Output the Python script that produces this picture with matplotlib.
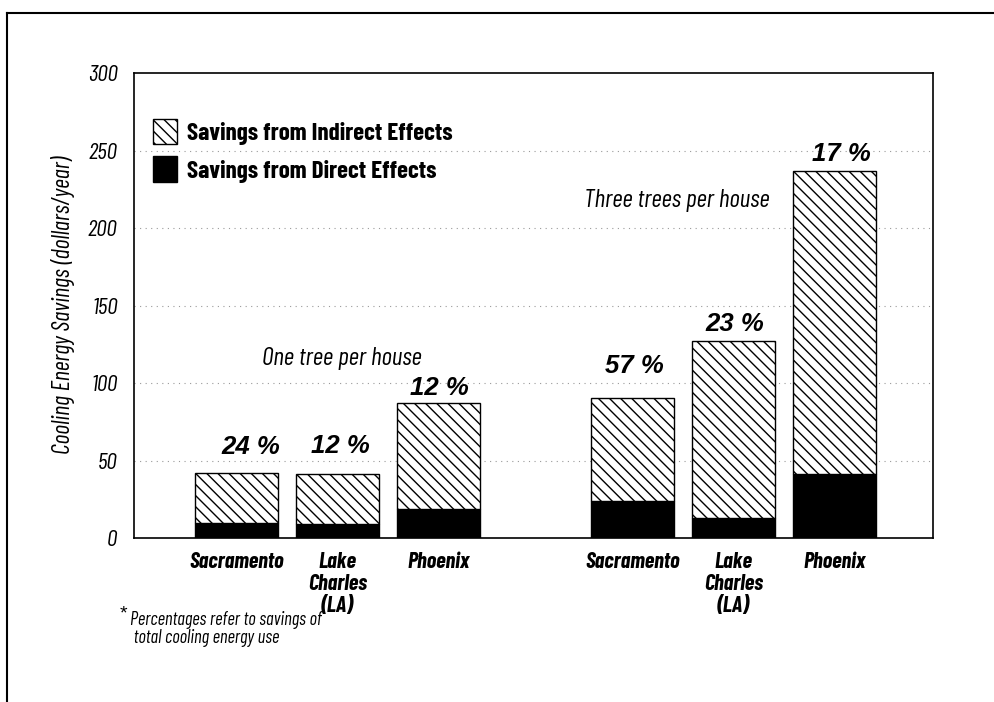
import matplotlib
matplotlib.use("Agg")
import matplotlib.pyplot as plt
from matplotlib.lines import Line2D
from matplotlib.patches import Patch

# ---- data ----
cities = ["Sacramento", "Lake\nCharles\n(LA)", "Phoenix"]
groups = ["One tree per house", "Three trees per house"]
direct = [10, 9, 19, 24, 13, 41]
indirect = [32, 32.5, 68, 66.5, 114, 196]
pct_labels = ["24 %", "12 %", "12 %", "57 %", "23 %", "17 %"]
yticks = [0, 50, 100, 150, 200, 250, 300]

COND = ["Barlow Condensed", "DejaVu Sans"]
WIDE = ["Liberation Sans", "DejaVu Sans"]

plt.rcParams["hatch.linewidth"] = 1.0

fig = plt.figure(figsize=(9.94, 7.02), dpi=100)
ax = fig.add_axes([0.1348, 0.2336, 0.9386 - 0.1348, 0.896 - 0.2336])

# positions: two groups of three
gap = 0.93
xs = [i + (i // 3) * gap for i in range(6)]
width = 0.82

ax.bar(xs, direct, width, color="black", edgecolor="black", lw=1, zorder=3)
ax.bar(xs, indirect, width, bottom=direct, color="white", edgecolor="black",
       hatch="\\\\\\", lw=1, zorder=3)

# percentage labels
offsets = [19, 20, 11, 23, 12, 12]
xshift = [0.14, 0.03, 0.01, 0.02, 0.01, 0.07]
for x, d, i, lab, off, dx in zip(xs, direct, indirect, pct_labels, offsets, xshift):
    ax.annotate(lab, (x + dx, d + i), xytext=(0, off), textcoords="offset points",
                ha="center", va="center", fontsize=18.5, fontweight="bold",
                fontstyle="italic", family=WIDE)

# group labels
ax.text((xs[0] + xs[2]) / 2 + 0.04, 116, groups[0], ha="center", va="center",
        fontsize=18.4, fontstyle="italic", family=COND)
ax.text(xs[3] + 0.44, 217.5, groups[1], ha="center", va="center",
        fontsize=18.4, fontstyle="italic", family=COND)

ax.set_ylim(0, 300)
ax.set_xlim(xs[0] - 1.02, xs[5] + 0.98)
ax.set_yticks(yticks)
ax.set_yticklabels([str(t) for t in yticks], fontsize=17, fontstyle="italic",
                   family=COND)
ax.set_xticks(xs)
ax.set_xticklabels(cities * 2, fontsize=16, fontweight="bold", fontstyle="italic",
                   family=COND, linespacing=1.12)
ax.tick_params(axis="both", length=0)
ax.tick_params(axis="y", pad=12)
ax.tick_params(axis="x", pad=10)
for t in yticks[1:-1]:
    ax.axhline(t, color="#9a9a9a", lw=0.8, ls=(0, (1, 4)), zorder=1)
for s in ax.spines.values():
    s.set_linewidth(1.2)

ax.set_ylabel("Cooling Energy Savings (dollars/year)", fontsize=17.5,
              fontstyle="italic", family=COND)
ax.yaxis.set_label_coords(-0.074, 0.5)

handles = [Patch(facecolor="white", edgecolor="black", hatch="\\\\\\", lw=1),
           Patch(facecolor="black", edgecolor="black", lw=1)]
leg = ax.legend(handles, ["Savings from Indirect Effects", "Savings from Direct Effects"],
                loc="upper left", bbox_to_anchor=(-0.004, 0.95), frameon=False,
                prop={"family": COND, "weight": "bold", "size": 18},
                handlelength=0.95, handleheight=1.2, handletextpad=0.4,
                labelspacing=0.45)

# footnote
fig.text(120 / 994, 1 - 614 / 702, "*", fontsize=14, family=WIDE, va="center")
fig.text(130 / 994, 1 - 629 / 702,
         "Percentages refer to savings of\n total cooling energy use",
         fontsize=13.3, fontstyle="italic", family=COND, va="center",
         linespacing=1.0)

# outer frame
fig.add_artist(Line2D([7 / 994, 1.0], [1 - 12.7 / 702] * 2, color="black",
                      lw=1.5, transform=fig.transFigure))
fig.add_artist(Line2D([7 / 994] * 2, [0, 1 - 12.7 / 702], color="black",
                      lw=1.5, transform=fig.transFigure))

fig.savefig("out.png", dpi=100)
